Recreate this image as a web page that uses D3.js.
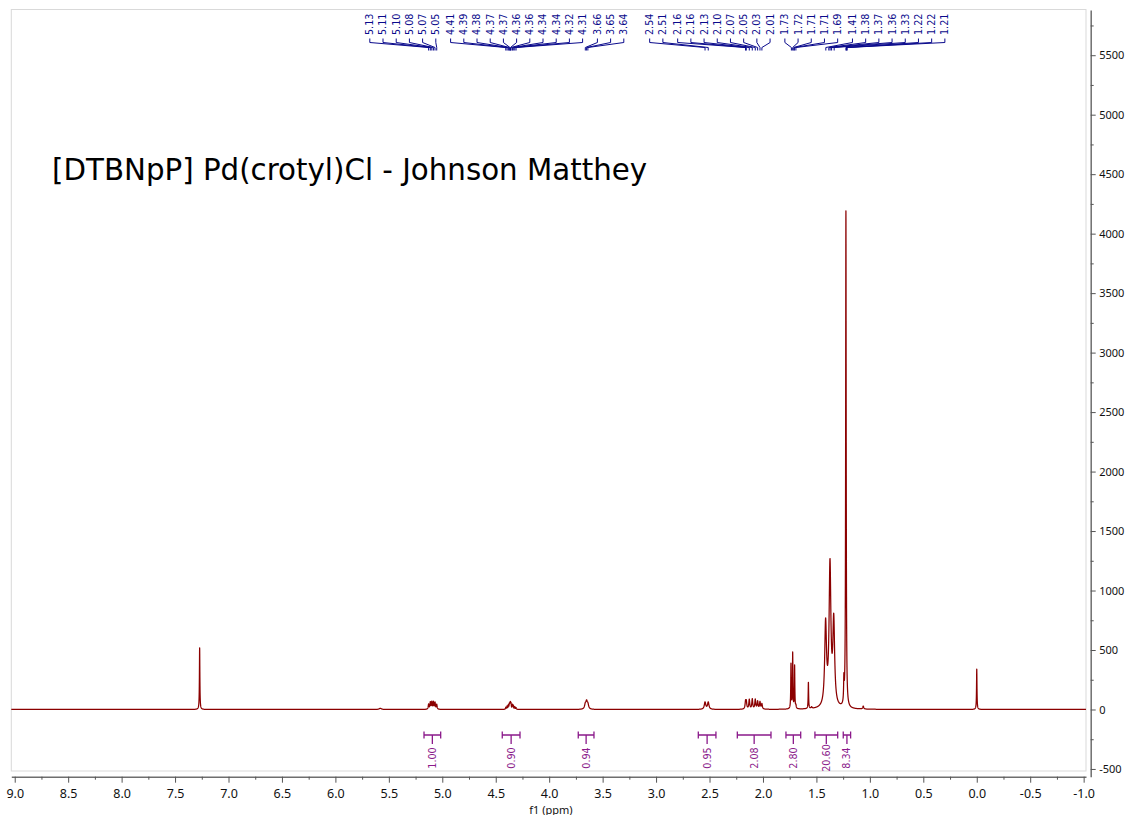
<!DOCTYPE html>
<html>
<head>
<meta charset="utf-8">
<script src="https://cdn.jsdelivr.net/npm/d3@7/dist/d3.min.js"></script>
<style>
  html, body { margin: 0; padding: 0; background: #fff; }
  svg { display: block; }
</style>
</head>
<body>
<svg id="chart" width="1134" height="815"></svg>
<script>
// 1H NMR spectrum: resonance lines (shift in ppm, height, half width at half maximum in ppm)
const linePpm = [
  7.270,
  5.128, 5.112, 5.098, 5.083, 5.068, 5.052,
  4.406, 4.394, 4.382, 4.373, 4.367, 4.362, 4.357, 4.344, 4.336, 4.322, 4.310,
  3.662, 3.650, 3.638,
  2.542, 2.512,
  2.163, 2.156, 2.128, 2.100, 2.072, 2.050, 2.028, 2.010,
  1.738, 1.722, 1.704, 1.692,
  1.575, 1.545,
  1.414, 1.373, 1.338,
  1.243, 1.224,
  1.062,
  0.000,
  5.580
];
const lineHeight = [
  518,
  42, 58, 60, 60, 56, 40,
  16, 26, 34, 38, 40, 41, 40, 36, 30, 22, 14,
  38, 58, 38,
  60, 60,
  58, 58, 80, 84, 80, 64, 60, 44,
  375, 465, 360, 25,
  222, 12,
  690, 1175, 705,
  190, 4175,
  25,
  340,
  10
];
const lineHwhm = [
  0.0025,
  0.004, 0.004, 0.004, 0.004, 0.004, 0.004,
  0.003, 0.003, 0.003, 0.003, 0.003, 0.003, 0.003, 0.003, 0.003, 0.003, 0.003,
  0.008, 0.008, 0.008,
  0.008, 0.008,
  0.005, 0.005, 0.005, 0.005, 0.005, 0.005, 0.005, 0.005,
  0.0025, 0.0025, 0.0025, 0.003,
  0.0025, 0.005,
  0.010, 0.010, 0.010,
  0.003, 0.003,
  0.005,
  0.0025,
  0.012
];

// Peak picking labels (ppm)
const peakLabels = [
  5.128, 5.112, 5.098, 5.083, 5.068, 5.052,
  4.406, 4.394, 4.382, 4.373, 4.367, 4.362, 4.357, 4.344, 4.336, 4.322, 4.310,
  3.662, 3.650, 3.638,
  2.542, 2.512,
  2.163, 2.156, 2.128, 2.100, 2.072, 2.050, 2.028, 2.010,
  1.734, 1.722, 1.712, 1.706, 1.692,
  1.412, 1.384, 1.372, 1.358, 1.334, 1.224, 1.218, 1.212
];

// Integral regions (ppm) and their normalised values
const integralFrom = [5.171, 4.439, 3.728, 2.605, 2.240, 1.785, 1.514, 1.249];
const integralTo   = [5.015, 4.273, 3.581, 2.440, 1.925, 1.647, 1.301, 1.180];
const integralValues = ["1.00", "0.90", "0.94", "0.95", "2.08", "2.80", "20.60", "8.34"];

// Axis ticks
const xTicks = d3.range(9, -1.0001, -0.5);
const xMinorTicks = d3.range(8.75, -1, -0.5);
const yTicks = d3.range(-500, 5501, 500);
const yMinorTicks = d3.range(-250, 5751, 500);

const title = "[DTBNpP] Pd(crotyl)Cl - Johnson Matthey";
const xTitle = "f1 (ppm)";

const svg = d3.select("#chart");
const frame = { left: 11.3, right: 1086, top: 9.5, bottom: 771 };
const x = d3.scaleLinear().domain([9.032, -1.022]).range([frame.left, frame.right]);
const y = d3.scaleLinear().domain([-565, 5880]).range([776.7, 10]);

// plot frame
svg.append("rect")
  .attr("x", frame.left).attr("y", frame.top)
  .attr("width", frame.right - frame.left).attr("height", frame.bottom - frame.top)
  .attr("fill", "none").attr("stroke", "#d9d9d9").attr("stroke-width", 1);

// spectrum as a sum of Lorentzian lines
function intensity(ppm) {
  let s = 0;
  for (let i = 0; i < linePpm.length; i++) {
    const d = (ppm - linePpm[i]) / lineHwhm[i];
    s += lineHeight[i] / (1 + d * d);
  }
  return s;
}
const grid = d3.range(9.032, -1.022, -0.0004);
const spectrum = grid.map(p => [p, intensity(p)]);
svg.append("path")
  .datum(spectrum)
  .attr("fill", "none")
  .attr("stroke", "#8b0000")
  .attr("stroke-width", 1.25)
  .attr("stroke-linejoin", "round")
  .attr("d", d3.line().x(d => x(d[0])).y(d => y(d[1])));

// x axis
const axisFont = "'Noto Sans', sans-serif";
const xAxisG = svg.append("g").attr("transform", "translate(0,776.7)");
xAxisG.call(d3.axisBottom(x).tickValues(xTicks).tickSize(6).tickSizeOuter(0).tickPadding(6)
  .tickFormat(d => d.toFixed(1)));
xAxisG.append("g").call(d3.axisBottom(x).tickValues(xMinorTicks).tickSize(3).tickFormat(""))
  .select(".domain").remove();
xAxisG.selectAll(".domain").attr("stroke", "#6e6e6e").attr("stroke-width", 1.5);
xAxisG.selectAll(".tick line").attr("stroke", "#555");
xAxisG.selectAll("text").attr("font-family", axisFont).attr("font-size", 12.5).attr("fill", "#111");

svg.append("text")
  .attr("x", 551).attr("y", 813.5)
  .attr("text-anchor", "middle")
  .attr("font-family", axisFont).attr("font-size", 11).attr("fill", "#111")
  .text(xTitle);

// y axis
const yAxisG = svg.append("g").attr("transform", "translate(1090.7,0)");
yAxisG.call(d3.axisRight(y).tickValues(yTicks).tickSize(5).tickSizeOuter(0).tickPadding(3.5)
  .tickFormat(d => String(d)));
yAxisG.append("g").call(d3.axisRight(y).tickValues(yMinorTicks).tickSize(3).tickFormat(""))
  .select(".domain").remove();
yAxisG.selectAll(".domain").attr("stroke", "#6e6e6e").attr("stroke-width", 1.5);
yAxisG.selectAll(".tick line").attr("stroke", "#555");
yAxisG.selectAll("text").attr("font-family", axisFont).attr("font-size", 11).attr("fill", "#111");

// title
svg.append("text")
  .attr("x", 52).attr("y", 180)
  .attr("font-family", "'DejaVu Sans', sans-serif")
  .attr("font-size", 29.3)
  .attr("fill", "#000")
  .text(title);

// peak labels: each multiplet's labels form an evenly spaced block centred on
// its peaks; touching blocks are joined and shifted together.
const labelGap = 13.2, groupGap = 14.8, groupBreakPpm = 0.2;
function layoutLabels(ppm) {
  const px = ppm.map(p => x(p));
  // multiplets: consecutive labels closer than groupBreakPpm
  const groups = [];
  ppm.forEach((p, i) => {
    if (i === 0 || ppm[i - 1] - p > groupBreakPpm) groups.push([]);
    groups[groups.length - 1].push(i);
  });
  const gw = g => (g.length - 1) * labelGap;
  const natural = groups.map(g => d3.mean(g, i => px[i]));
  let chains = groups.map((g, k) => ({ groups: [k] }));
  function place(c) {
    let off = 0; const offs = [];
    c.groups.forEach((k, j) => {
      if (j > 0) off += groupGap;
      offs.push(off + gw(groups[k]) / 2);
      off += gw(groups[k]);
    });
    const start = d3.mean(c.groups, (k, j) => natural[k] - offs[j]);
    c.start = start; c.end = start + off; c.offs = offs;
  }
  chains.forEach(place);
  let merged = true;
  while (merged) {
    merged = false;
    for (let i = 0; i < chains.length - 1; i++) {
      if (chains[i].end + groupGap > chains[i + 1].start) {
        const c = { groups: chains[i].groups.concat(chains[i + 1].groups) };
        place(c);
        chains.splice(i, 2, c);
        merged = true;
        break;
      }
    }
  }
  const lx = new Array(ppm.length);
  chains.forEach(c => c.groups.forEach((k, j) => {
    const g = groups[k], c0 = c.start + c.offs[j] - gw(g) / 2;
    g.forEach((idx, m) => { lx[idx] = c0 + m * labelGap; });
  }));
  return { px, lx };
}
const { px: peakX, lx: labelX } = layoutLabels(peakLabels);
const navy = "#0a0a8c";
const pl = svg.append("g");
pl.selectAll("path").data(peakLabels).join("path")
  .attr("fill", "none").attr("stroke", navy).attr("stroke-width", 1)
  .attr("d", (d, i) => `M${labelX[i]},38.5 L${labelX[i]},42.5 L${peakX[i]},47.5 L${peakX[i]},50.5`);
pl.selectAll("text").data(peakLabels).join("text")
  .attr("transform", (d, i) => `translate(${labelX[i]},35) rotate(-90)`)
  .attr("dy", "0.36em")
  .attr("font-family", "'DejaVu Sans', sans-serif").attr("font-size", 9.6)
  .attr("fill", navy)
  .text(d => d.toFixed(2));

// integrals
const purple = "#8b1a8b";
const ig = svg.append("g").attr("stroke", purple).attr("fill", "none").attr("stroke-width", 1.3);
integralValues.forEach((v, i) => {
  const x0 = x(integralFrom[i]), x1 = x(integralTo[i]), xc = (x0 + x1) / 2;
  ig.append("path").attr("d",
    `M${x0},735 L${x1},735 M${x0},731.5 L${x0},738.5 M${x1},731.5 L${x1},738.5 M${xc},735 L${xc},744`);
  svg.append("text")
    .attr("transform", `translate(${xc},758) rotate(-90)`)
    .attr("text-anchor", "middle").attr("dy", "0.36em")
    .attr("font-family", "'DejaVu Sans', sans-serif").attr("font-size", 9.6)
    .attr("fill", purple)
    .text(v);
});
</script>
</body>
</html>
